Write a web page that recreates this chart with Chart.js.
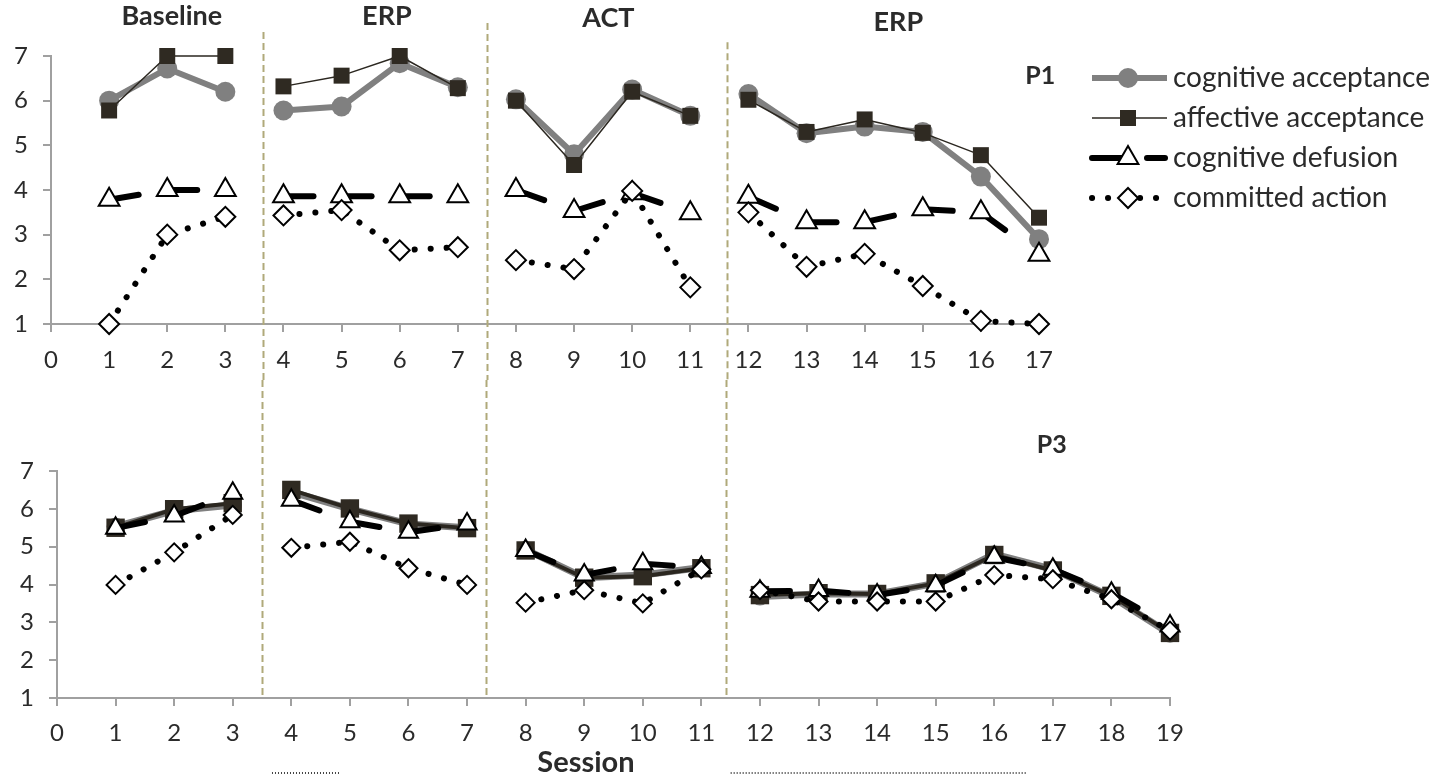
<!DOCTYPE html>
<html>
<head>
<meta charset="utf-8">
<title>Acceptance, defusion and committed action per session</title>
<script src="https://cdn.jsdelivr.net/npm/chart.js@4.4.1/dist/chart.umd.min.js"></script>
<style>
    html, body { margin: 0; padding: 0; background: #fff; }
    #wrap { position: relative; width: 1447px; height: 779px; overflow: hidden; }
    #wrap canvas { position: absolute; left: 0; }
    #topChart { top: 0; }
    #bottomChart { top: 380px; }
</style>
</head>
<body>
<div id="wrap">
    <canvas id="topChart" width="1447" height="380"></canvas>
    <canvas id="bottomChart" width="1447" height="399"></canvas>
</div>
<script>
// ---- data ----
const seriesNames = ['cognitive acceptance', 'affective acceptance', 'cognitive defusion', 'committed action'];
const yTicks = [1, 2, 3, 4, 5, 6, 7];

// P1 (sessions 1-17)
const p1Sessions = [1, 2, 3, 4, 5, 6, 7, 8, 9, 10, 11, 12, 13, 14, 15, 16, 17];
const p1CognitiveAcceptance = [6.0, 6.72, 6.2, 5.78, 5.87, 6.84, 6.3, 6.03, 4.8, 6.25, 5.66, 6.15, 5.27, 5.42, 5.3, 4.3, 2.9];
const p1AffectiveAcceptance = [5.78, 7.0, 7.0, 6.32, 6.56, 7.0, 6.28, 6.0, 4.56, 6.2, 5.66, 6.02, 5.3, 5.58, 5.28, 4.78, 3.38];
const p1CognitiveDefusion = [3.78, 4.0, 4.0, 3.86, 3.86, 3.86, 3.86, 4.0, 3.53, 3.93, 3.48, 3.85, 3.28, 3.28, 3.57, 3.5, 2.55];
const p1CommittedAction = [1.0, 3.0, 3.4, 3.43, 3.55, 2.65, 2.72, 2.43, 2.23, 3.98, 1.82, 3.5, 2.28, 2.57, 1.85, 1.07, 1.0];
const p1PhaseBreaks = [3.64, 7.5, 11.64];      // dashed phase lines, in session units
const p1PhaseLineTops = [7.54, 7.74, 7.31];    // where each phase line starts (score units)

// P3 (sessions 1-19)
const p3Sessions = [1, 2, 3, 4, 5, 6, 7, 8, 9, 10, 11, 12, 13, 14, 15, 16, 17, 18, 19];
const p3CognitiveAcceptance = [5.53, 5.95, 6.1, 6.45, 6.0, 5.6, 5.5, 4.92, 4.18, 4.25, 4.45, 3.68, 3.75, 3.75, 4.03, 4.8, 4.4, 3.68, 2.7];
const p3AffectiveAcceptance = [5.5, 5.99, 6.15, 6.5, 6.01, 5.61, 5.49, 4.9, 4.18, 4.22, 4.43, 3.72, 3.77, 3.75, 4.03, 4.78, 4.37, 3.7, 2.72];
const p3CognitiveDefusion = [5.49, 5.81, 6.41, 6.23, 5.66, 5.38, 5.6, 4.9, 4.25, 4.55, 4.45, 3.82, 3.84, 3.72, 3.97, 4.72, 4.4, 3.77, 2.9];
const p3CommittedAction = [3.99, 4.85, 5.84, 4.97, 5.13, 4.43, 3.99, 3.52, 3.85, 3.5, 4.4, 3.85, 3.55, 3.55, 3.55, 4.25, 4.14, 3.61, 2.78];
const p3PhaseBreaks = [3.5, 7.32, 11.42];

// text labels
const phaseNames = ['Baseline', 'ERP', 'ACT', 'ERP'];
const phaseLabelSessions = [2.08, 5.78, 9.59, 14.58];
const phaseLabelLevels = [7.9, 7.9, 7.85, 7.76];
const underlineSpans = [[3.67, 4.83], [11.5, 16.57]];

// ---- styles ----
const FONT = 'Lato, "Open Sans", sans-serif';
const TEXT = '#2b2b2b';
const AXIS = '#a0a0a0';
const PHASE_COLOR = '#b0a97a';
const LEGEND_X = 1092, LEGEND_Y = 78, LEGEND_GAP = 40, LEGEND_LEN = 75, LEGEND_MARK = 36;

function toPoints(sessions, values, breaks) {
    const pts = [];
    sessions.forEach((s, i) => {
        if (i > 0 && breaks.some(b => b > sessions[i - 1] && b < s)) {
            pts.push({ x: (sessions[i - 1] + s) / 2, y: null });
        }
        pts.push({ x: s, y: values[i] });
    });
    return pts;
}

function makeDatasets(values, sessions, breaks, heavy) {
    const common = { tension: 0, spanGaps: false, clip: false, borderJoinStyle: 'round' };
    return [
        Object.assign({}, common, {
            label: seriesNames[0], data: toPoints(sessions, values[0], breaks), order: 3,
            borderColor: '#808080', borderWidth: heavy ? 7 : 6,
            pointStyle: 'circle', pointRadius: heavy ? 9 : 10,
            pointBackgroundColor: '#808080', pointBorderColor: '#808080', pointBorderWidth: 0
        }),
        Object.assign({}, common, {
            label: seriesNames[1], data: toPoints(sessions, values[1], breaks), order: 2,
            borderColor: '#2b2720', borderWidth: heavy ? 4 : 1.5,
            pointStyle: 'rect', pointRadius: heavy ? 13 : 11.3,
            pointBackgroundColor: '#2f2a22', pointBorderColor: '#2f2a22', pointBorderWidth: 0
        }),
        Object.assign({}, common, {
            label: seriesNames[2], data: toPoints(sessions, values[2], breaks), order: 1,
            borderColor: '#000', borderWidth: 6, borderDash: [30, 60], borderCapStyle: 'round',
            // restart the dash pattern at every session-to-session segment
            segment: { borderDashOffset: ctx => (ctx.p0DataIndex % 2 ? 0.01 : 0) },
            pointStyle: 'triangle', pointRadius: heavy ? 11 : 12,
            pointBackgroundColor: '#fff', pointBorderColor: '#000', pointBorderWidth: 2
        }),
        Object.assign({}, common, {
            label: seriesNames[3], data: toPoints(sessions, values[3], breaks), order: 0,
            borderColor: '#000', borderWidth: 6, borderDash: [0.1, 15.9], borderCapStyle: 'round',
            pointStyle: 'rectRot', pointRadius: heavy ? 9 : 10,
            pointBackgroundColor: '#fff', pointBorderColor: '#000', pointBorderWidth: 2
        })
    ];
}

function drawMarker(ctx, ds, x, y) {
    ctx.setLineDash([]);
    ctx.fillStyle = ds.pointBackgroundColor;
    ctx.strokeStyle = ds.pointBorderColor;
    ctx.lineWidth = ds.pointBorderWidth;
    Chart.helpers.drawPoint(ctx, {
        pointStyle: ds.pointStyle, radius: ds.pointRadius,
        borderWidth: ds.pointBorderWidth, rotation: 0
    }, x, y);
}

function strokeLine(ctx, x1, x2, y) {
    ctx.beginPath();
    ctx.moveTo(x1, y);
    ctx.lineTo(x2, y);
    ctx.stroke();
}

const panelDecor = {
    id: 'panelDecor',
    beforeDatasetsDraw(chart, args, opts) {
        const { ctx, scales: { x, y } } = chart;
        ctx.save();
        ctx.strokeStyle = PHASE_COLOR;
        ctx.lineWidth = 2;
        ctx.setLineDash([7, 4]);
        opts.phaseBreaks.forEach((b, i) => {
            const px = Math.round(x.getPixelForValue(b)) + 0.5;
            const top = opts.phaseTops ? y.getPixelForValue(opts.phaseTops[i]) : 0;
            const bottom = opts.phaseTops ? chart.height : y.getPixelForValue(1);
            ctx.beginPath();
            ctx.moveTo(px, top);
            ctx.lineTo(px, bottom);
            ctx.stroke();
        });
        ctx.restore();
    },
    afterDraw(chart, args, opts) {
        const { ctx, scales: { x, y } } = chart;
        ctx.save();
        ctx.fillStyle = TEXT;
        ctx.textAlign = 'center';
        ctx.textBaseline = 'middle';
        (opts.labels || []).forEach(l => {
            ctx.font = `bold ${l.size}px ${FONT}`;
            ctx.fillText(l.text, x.getPixelForValue(l.x), y.getPixelForValue(l.y));
        });

        // dotted underline marks under the session axis
        if (opts.underlines) {
            ctx.strokeStyle = '#444';
            ctx.lineWidth = 2;
            ctx.setLineDash([1, 2]);
            opts.underlines.spans.forEach(([a, b]) => {
                const py = Math.round(y.getPixelForValue(opts.underlines.level));
                strokeLine(ctx, x.getPixelForValue(a), x.getPixelForValue(b), py);
            });
        }

        // legend
        if (opts.legend) {
            chart.data.datasets.forEach((ds, i) => {
                const ly = LEGEND_Y + i * LEGEND_GAP;
                const mx = LEGEND_X + LEGEND_MARK;
                ctx.strokeStyle = ds.borderColor;
                ctx.lineWidth = ds.borderWidth;
                ctx.lineCap = ds.borderCapStyle || 'butt';
                ctx.setLineDash(ds.borderDash || []);
                if (ds.segment) {
                    // dash restarts from both ends, like the per-segment lines
                    strokeLine(ctx, LEGEND_X, mx, ly);
                    ctx.setLineDash([18, 60]);
                    strokeLine(ctx, LEGEND_X + LEGEND_LEN - 2, mx, ly);
                } else {
                    strokeLine(ctx, LEGEND_X, LEGEND_X + LEGEND_LEN, ly);
                }
                ctx.lineCap = 'butt';
                drawMarker(ctx, ds, mx, ly);
                ctx.fillStyle = TEXT;
                ctx.font = `28px ${FONT}`;
                ctx.textAlign = 'left';
                ctx.fillText(ds.label, LEGEND_X + LEGEND_LEN + 6, ly);
            });
        }
        ctx.restore();
    }
};

function buildPanel(canvasId, cfg) {
    return new Chart(document.getElementById(canvasId), {
        type: 'line',
        data: { datasets: makeDatasets(cfg.values, cfg.sessions, cfg.phaseBreaks, cfg.heavy) },
        options: {
            responsive: false,
            animation: false,
            events: [],
            layout: { padding: cfg.padding },
            plugins: {
                legend: { display: false },
                tooltip: { enabled: false },
                panelDecor: cfg.decor
            },
            scales: {
                x: {
                    type: 'linear', min: 0, max: cfg.xMax,
                    ticks: {
                        stepSize: 1, autoSkip: false, maxRotation: 0,
                        color: TEXT, padding: cfg.xLabelPad,
                        font: { family: FONT, size: 24 }
                    },
                    grid: { drawOnChartArea: false, tickLength: 8, color: AXIS, lineWidth: 2 },
                    border: { color: AXIS, width: 2 },
                    afterFit: s => { s.height = cfg.xAxisHeight; }
                },
                y: {
                    type: 'linear', min: yTicks[0], max: yTicks[yTicks.length - 1],
                    afterBuildTicks: s => { s.ticks = yTicks.map(v => ({ value: v })); },
                    ticks: {
                        color: TEXT, padding: 15,
                        font: { family: FONT, size: 24 }
                    },
                    grid: { drawOnChartArea: false, tickLength: 8, color: AXIS, lineWidth: 2 },
                    border: { color: AXIS, width: 2 },
                    afterFit: s => { s.width = cfg.yAxisWidth; }
                }
            }
        },
        plugins: [panelDecor]
    });
}

const topLabels = phaseNames.map((t, i) => ({ text: t, x: phaseLabelSessions[i], y: phaseLabelLevels[i], size: 27 }));
topLabels.push({ text: 'P1', x: 17.02, y: 6.55, size: 25 });

buildPanel('topChart', {
    sessions: p1Sessions,
    values: [p1CognitiveAcceptance, p1AffectiveAcceptance, p1CognitiveDefusion, p1CommittedAction],
    phaseBreaks: p1PhaseBreaks,
    xMax: 17,
    heavy: false,
    padding: { left: 0, top: 56, right: 408, bottom: 0 },
    yAxisWidth: 51,
    xAxisHeight: 56,
    xLabelPad: 14,
    decor: { phaseBreaks: p1PhaseBreaks, phaseTops: p1PhaseLineTops, labels: topLabels, legend: true }
});

buildPanel('bottomChart', {
    sessions: p3Sessions,
    values: [p3CognitiveAcceptance, p3AffectiveAcceptance, p3CognitiveDefusion, p3CommittedAction],
    phaseBreaks: p3PhaseBreaks,
    xMax: 19,
    heavy: true,
    padding: { left: 0, top: 91, right: 277, bottom: 0 },
    yAxisWidth: 57,
    xAxisHeight: 81,
    xLabelPad: 13,
    decor: {
        phaseBreaks: p3PhaseBreaks,
        labels: [
            { text: 'P3', x: 16.98, y: 7.69, size: 25 },
            { text: 'Session', x: 9.03, y: -0.72, size: 29 }
        ],
        underlines: { spans: underlineSpans, level: -0.98 }
    }
});
</script>
</body>
</html>
